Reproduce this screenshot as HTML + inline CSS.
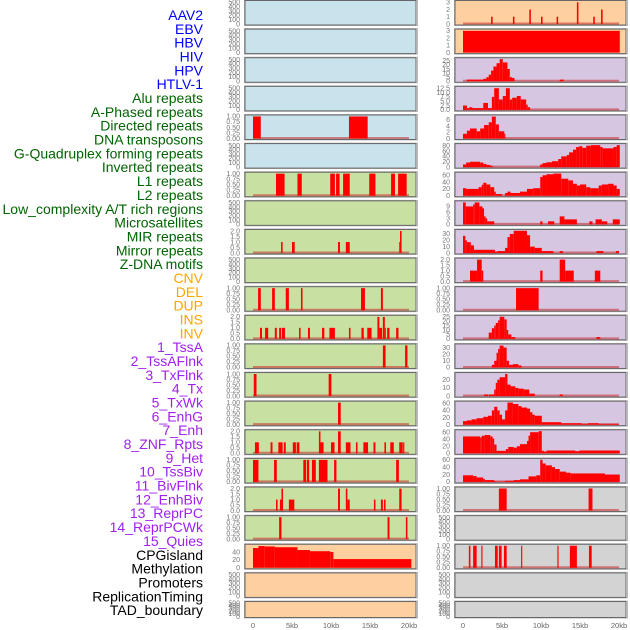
<!DOCTYPE html>
<html><head><meta charset="utf-8"><style>
html,body{margin:0;padding:0;background:#fff;}
svg{display:block;font-family:"Liberation Sans",sans-serif;}
</style></head><body>
<svg id="chart" width="630" height="630" viewBox="0 0 630 630" xmlns="http://www.w3.org/2000/svg"></svg>
<script>
// ---- labels ----
const trackLabels = ["AAV2","EBV","HBV","HIV","HPV","HTLV-1","Alu repeats","A-Phased repeats","Directed repeats","DNA transposons","G-Quadruplex forming repeats","Inverted repeats","L1 repeats","L2 repeats","Low_complexity A/T rich regions","Microsatellites","MIR repeats","Mirror repeats","Z-DNA motifs","CNV","DEL","DUP","INS","INV","1_TssA","2_TssAFlnk","3_TxFlnk","4_Tx","5_TxWk","6_EnhG","7_Enh","8_ZNF_Rpts","9_Het","10_TssBiv","11_BivFlnk","12_EnhBiv","13_ReprPC","14_ReprPCWk","15_Quies","CPGisland","Methylation","Promoters","ReplicationTiming","TAD_boundary"];
const labelColors = ["#0000ff","#006400","#ffa500","#a020f0","#000000"];
const labelGroupSizes = [6,13,5,15,5];
const xTickKb = [0,5,10,15,20];
const xTickLabels = ["0","5kb","10kb","15kb","20kb"];

// ---- right column series (kb breakpoints, step values) ----
const r1Kb=[3.6,3.8,6.4,6.6,8.5,8.7,10.0,10.2,12.0,12.2,14.6,14.8,16.7,16.9,17.7,17.9];
const r1Val=[1,0,1,0,2,0,1,0,1,0,3,0,1,0,2];
const r2Kb=[0,20.1]; const r2Val=[3];
const r3Kb=[0.5,2.6,3.0,3.3,3.6,3.9,4.3,4.7,5.1,5.7,6.0,6.3,6.6,12.4,12.9];
const r3Val=[2,3,5,8,13,18,22,27,23,15,5,4,0,2];
const r4Kb=[0,0.5,0.8,1.2,2.6,3.2,3.7,4.0,4.6,5.1,5.5,6.0,6.3,6.9,7.4,8.1,8.3,8.6];
const r4Val=[2.5,1,1.5,1,4,1,7.5,12.5,6,8,12.5,6,7,8,6,3,1.5];
const r5Kb=[0,0.5,0.9,1.75,2.2,2.7,3.3,3.7,4.2,4.6,5.3,5.4];
const r5Val=[1.5,2.5,3.2,2.3,3.2,4.3,5.2,7,4.5,2.3,1.5];
const r6Kb=[0,0.4,0.9,2.2,2.6,3.0,3.5,3.8,9.9,10.2,10.7,11.4,12.2,12.6,13.3,13.6,14.1,14.5,14.9,15.3,15.8,16.4,17.6,17.9,19.3,19.7,20.1];
const r6Val=[10,17,20,17,12,8,5,0,10,15,18,22,30,40,45,55,65,75,78,72,80,82,75,70,75,82];
const r7Kb=[0,0.4,2.0,2.4,2.6,3.0,3.5,4.0,4.2,5.0,5.4,5.7,6.1,7.3,8.2,9.0,9.9,10.2,10.7,11.6,12.6,13.5,14.1,14.6,15.0,15.8,16.3,17.4,17.8,18.6,19.3,19.7,20.1];
const r7Val=[22,20,25,32,38,33,25,12,5,0,8,12,8,12,20,22,55,60,63,65,50,45,35,30,33,25,22,30,33,35,30,20];
const r8Kb=[0,0.35,1.3,1.5,2.1,2.5,2.7,2.9,3.1,4.0,9.9,10.2,10.9,11.7,12.4,13.0,14.6,16.2,16.6,17.0,17.8,18.5,19.2,20.1];
const r8Val=[11,9,10,11,9,8,4,3,1.5,0,1.5,0,1.5,0,4,2.5,0,1.5,0,2.5,1.5,0,2.5];
const r9Kb=[0,0.3,0.5,1.0,1.4,4.1,4.4,5.4,5.7,6.0,6.5,8.2,8.6,9.2,10.1,11.6,12.4,12.8,17.1,18.0,19.6,20.0];
const r9Val=[27,20,17,12,5,2,3,8,25,30,35,28,10,8,3,0,3,0,3,0,3];
const r10Kb=[0.9,1.8,2.4,2.6,9.9,10.2,12.4,13.1,14.2,16.9,17.6];
const r10Val=[1,2,1,0,1,0,2,1,0,1];
const r11Kb=[6.8,9.7]; const r11Val=[1];
const r12Kb=[3.3,3.7,4.0,4.2,4.5,4.7,5.3,5.6,5.8,6.2,6.7,17.1,17.6];
const r12Val=[7,12,15,18,21,25,22,10,5,2,0,2];
const r13Kb=[3.7,4.0,4.3,4.5,4.7,5.2,5.6,5.9,6.4,7.1,7.5];
const r13Val=[4,10,22,28,33,30,10,4,5,3];
const r14Kb=[2.7,3.2,3.3,4.0,4.2,4.4,4.7,5.4,5.7,6.1,6.7,7.1,7.8,8.5,9.2,12.4,12.8];
const r14Val=[2,0,2,8,16,20,23,27,14,12,10,9,8,3,0,2];
const r15Kb=[0,0.5,1.1,1.75,2.6,3.2,3.7,4.0,4.4,4.7,5.0,5.4,5.7,6.4,7.1,7.5,8.2,8.6,8.9,9.2,10.1,12.6,15.2,16.0,17.4,20.0];
const r15Val=[10,12,15,18,22,25,40,50,40,28,15,40,62,58,52,48,45,35,28,25,7,4,2,4,2];
const r16Kb=[0,2.2,2.4,2.8,3.5,3.8,4.0,4.3,5.5,5.8,6.5,6.9,7.3,8.2,8.4,8.6,9.7,10.1,10.4,10.7,14.4,14.9,20.1];
const r16Val=[48,45,50,52,48,42,25,7,12,18,16,20,26,35,50,60,63,7,5,8,6,8];
const r17Kb=[0,1.3,1.75,2.6,2.8,4.0,4.2,5.4,6.5,7.3,8.4,9.4,9.9,10.2,10.6,11.4,11.8,12.4,13.2,13.8,18.2,20.1];
const r17Val=[18,16,12,8,5,2,1,3,5,7,15,18,60,50,45,40,35,28,25,23,20];
const r18Kb=[4.6,5.6,16.1,16.6]; const r18Val=[1,0,1];
const r20Kb=[0.75,0.95,1.3,1.75,2.35,2.5,4.1,4.45,4.6,4.95,5.25,5.6,7.45,7.6,12.1,12.25,13.7,14.6,16.15,16.5];
const r20Val=[1,0,1,0,1,0,1,0,1,0,1,0,1,0,1,0,1,0,1];

// ---- left column series ----
const l5Kb=[0,1.0,12.3,14.7]; const l5Val=[1,0,1];
const l7Kb=[2.95,4.05,5.7,6.25,9.9,10.5,10.65,11.1,11.55,12.4,14.9,15.7,17.7,18.2,18.6,19.7];
const l7Val=[1,0,1,0,1,0,1,0,1,0,1,0,1,0,1];
const l9Kb=[3.6,3.8,5.0,5.35,10.9,11.15,11.9,12.4,18.75,18.85,19.05];
const l9Val=[1,0,1,0,1,0,1,0,1,2];
const l11Kb=[0.65,1.0,2.45,2.8,4.2,4.6,6.15,6.35,13.85,14.35,16.4,16.65];
const l11Val=[1,0,1,0,1,0,1,0,1,0,1];
const l12Kb=[0.9,1.15,1.55,1.95,2.8,3.05,3.35,3.6,3.7,4.1,5.9,6.1,7.05,7.3,8.85,9.15,9.8,10.5,12.3,12.5,13.9,14.2,14.65,15.2,15.95,16.2,16.55,16.65,16.9,17.0,17.2,17.5,18.35,18.65];
const l12Val=[1,0,1,0,1,0,1,0,1,0,1,0,1,0,1,0,1,0,1,0,1,0,1,0,2,1,0,2,1,0,1,0,1];
const l13Kb=[16.65,17.0,19.5,19.8]; const l13Val=[1,0,1];
const l14Kb=[0.1,0.45,9.7,10.05]; const l14Val=[1,0,1];
const l15Kb=[10.9,11.25]; const l15Val=[1];
const l16Kb=[0.25,0.75,2.25,2.5,3.25,3.8,3.95,4.2,5.1,5.5,5.6,5.95,8.45,8.65,9.05,10.0,10.45,10.9,11.25,11.9,12.5,13.2,13.4,14.15,14.75,15.45,15.7,16.85,17.05,17.6,18.05,18.75,19.2,19.25,19.4];
const l16Val=[1,0,1,0,1,0,1,0,1,0,1,0,2,1,0,1,0,2,0,1,0,1,0,1,0,1,0,1,0,1,0,1,0,1];
const l17Kb=[0,0.7,2.7,3.05,6.45,6.8,6.9,7.2,7.55,8.05,8.45,9.55,10.4,10.7,18.35,18.7];
const l17Val=[1,0,1,0,1,0,1,0,1,0,1,0,1,0,1];
const l18Kb=[2.95,3.15,3.45,3.65,3.85,4.6,5.3,10.9,11.15,11.9,12.1,12.4,15.5,15.7,16.4,16.65,16.8,17.0,18.75,19.05];
const l18Val=[1,0,1,2,0,1,0,2,0,2,1,0,1,0,1,0,1,0,2];
const l19Kb=[3.35,3.65,17.25,17.5,19.6,19.8]; const l19Val=[1,0,1,0,1];
const l20Kb=[0,0.7,1.5,2.8,5.7,7.3,9.9,10.3,20.3]; const l20Val=[50,55,54,52,45,42,40,22];

// ---- tick sets ----
const tEmpty=[0,100,200,300,400,500], tEmptyLbl=["0","100","200","300","400","500"];
const t01=[0,0.25,0.5,0.75,1], t01Lbl=["0.00","0.25","0.50","0.75","1.00"];
const t02=[0,0.5,1,1.5,2], t02Lbl=["0.0","0.5","1.0","1.5","2.0"];
const t3=[0,1,2,3], t3Lbl=["0","1","2","3"];

const BLUE="#c8e3eb", GREEN="#c8e1a3", PEACH="#fed0a0", LAV="#d6c6e2", GRAY="#d3d3d3";
const E=null;
const leftPanels=[
 [BLUE,E,E,520,tEmpty,tEmptyLbl],[BLUE,E,E,520,tEmpty,tEmptyLbl],[BLUE,E,E,520,tEmpty,tEmptyLbl],[BLUE,E,E,520,tEmpty,tEmptyLbl],
 [BLUE,l5Kb,l5Val,1.02,t01,t01Lbl,1],[BLUE,E,E,520,tEmpty,tEmptyLbl],
 [GREEN,l7Kb,l7Val,1.02,t01,t01Lbl,1],[GREEN,E,E,520,tEmpty,tEmptyLbl],
 [GREEN,l9Kb,l9Val,2.05,t02,t02Lbl,1],[GREEN,E,E,520,tEmpty,tEmptyLbl],
 [GREEN,l11Kb,l11Val,1.02,t01,t01Lbl,1],[GREEN,l12Kb,l12Val,2.05,t02,t02Lbl,1],
 [GREEN,l13Kb,l13Val,1.02,t01,t01Lbl,1],[GREEN,l14Kb,l14Val,1.02,t01,t01Lbl,1],
 [GREEN,l15Kb,l15Val,1.02,t01,t01Lbl,1],[GREEN,l16Kb,l16Val,2.05,t02,t02Lbl,1],
 [GREEN,l17Kb,l17Val,1.02,t01,t01Lbl,1],[GREEN,l18Kb,l18Val,2.05,t02,t02Lbl,1],
 [GREEN,l19Kb,l19Val,1.02,t01,t01Lbl,1],[PEACH,l20Kb,l20Val,57,[0,20,40],["0","20","40"],0],
 [PEACH,E,E,520,tEmpty,tEmptyLbl],[PEACH,E,E,520,tEmpty,tEmptyLbl]
];
const rightPanels=[
 [PEACH,r1Kb,r1Val,3.1,t3,t3Lbl,1],[PEACH,r2Kb,r2Val,3.1,t3,t3Lbl,0],
 [LAV,r3Kb,r3Val,27.5,[0,5,10,15,20,25],["0","5","10","15","20","25"],1],
 [LAV,r4Kb,r4Val,13,[0,2.5,5,7.5,10,12.5],["0.0","2.5","5.0","7.5","10.0","12.5"],1],
 [LAV,r5Kb,r5Val,7.2,[0,2,4,6],["0","2","4","6"],1],
 [LAV,r6Kb,r6Val,84,[0,20,40,60,80],["0","20","40","60","80"],1],
 [LAV,r7Kb,r7Val,66,[0,20,40,60],["0","20","40","60"],1],
 [LAV,r8Kb,r8Val,11.3,[0,3,6,9],["0","3","6","9"],1],
 [LAV,r9Kb,r9Val,35.5,[0,10,20,30],["0","10","20","30"],1],
 [LAV,r10Kb,r10Val,2.05,t02,t02Lbl,1],[LAV,r11Kb,r11Val,1.02,t01,t01Lbl,1],
 [LAV,r12Kb,r12Val,25.5,[0,5,10,15,20,25],["0","5","10","15","20","25"],1],
 [LAV,r13Kb,r13Val,34,[0,10,20,30],["0","10","20","30"],1],
 [LAV,r14Kb,r14Val,27.5,[0,10,20],["0","10","20"],1],
 [LAV,r15Kb,r15Val,63,[0,20,40,60],["0","20","40","60"],1],
 [LAV,r16Kb,r16Val,64,[0,20,40,60],["0","20","40","60"],1],
 [LAV,r17Kb,r17Val,61,[0,20,40,60],["0","20","40","60"],1],
 [GRAY,r18Kb,r18Val,1.02,t01,t01Lbl,1],[GRAY,E,E,520,tEmpty,tEmptyLbl],
 [GRAY,r20Kb,r20Val,1.02,t01,t01Lbl,1],[GRAY,E,E,520,tEmpty,tEmptyLbl],[GRAY,E,E,520,tEmpty,tEmptyLbl]
];

const NS="http://www.w3.org/2000/svg";
const svg=document.getElementById("chart");
function mk(tag,attrs,parent){const e=document.createElementNS(NS,tag);for(const k in attrs)e.setAttribute(k,attrs[k]);(parent||svg).appendChild(e);return e;}

let li=0;
labelGroupSizes.forEach((n,g)=>{for(let j=0;j<n;j++,li++){
  const t=mk("text",{x:203,y:15+li*13.84+5,"text-anchor":"end","font-size":"14",fill:labelColors[g]});
  
  
  t.textContent=trackLabels[li];
}});

function drawPanel(p,i,colX,tickX,side){
  const [bg,kb,val,ymax,ticks,tlbl,base]=p;
  const top=0.5+i*28.62, h=(i===21)?16:24.5;
  const bottom=top+h;
  const xs=k=>colX+8+k*7.8;
  const ys=v=>bottom-1-v/ymax*(h-2);
  const g=mk("g",{});
  
  
  mk("rect",{x:colX-0.5,y:top-0.5,width:173,height:h+1,fill:"none",stroke:"#bbb","stroke-width":1},g);
  const bgR=mk("rect",{x:colX,y:top,width:171,height:h,fill:bg,stroke:"#666","stroke-width":1},g);
  
  
  ticks.forEach((tv,k)=>{
    const t=mk("text",{x:tickX,y:ys(tv)+2.3,"text-anchor":"end","font-size":"7",fill:"#777"},g);
    
    
    t.textContent=tlbl[k];
  });
  if(!kb)return;
  if(base){
    const b=mk("line",{x1:xs(0),x2:xs(20),y1:bottom-1.5,y2:bottom-1.5,stroke:"rgba(200,40,40,0.55)","stroke-width":2},g);
    
    
  }
  for(let s=0;s<val.length;s++){
    if(val[s]<=0)continue;
    const x1=xs(kb[s]),x2=xs(kb[s+1]);
    const r=mk("rect",{x:x1,y:ys(val[s]),width:Math.max(x2-x1,1),height:(bottom-1)-ys(val[s]),fill:"#ff0000"},g);
    
    
  }
}
leftPanels.forEach((p,i)=>drawPanel(p,i,245,240,'left'));
rightPanels.forEach((p,i)=>drawPanel(p,i,455,450,'right'));

[245,455].forEach((cx,c)=>{
  xTickKb.forEach((k,j)=>{
    const t=mk("text",{x:cx+8+k*7.8,y:628,"text-anchor":"middle","font-size":"7.5",fill:"#666"});
    
    
    t.textContent=xTickLabels[j];
  });
});
</script>
</body></html>
